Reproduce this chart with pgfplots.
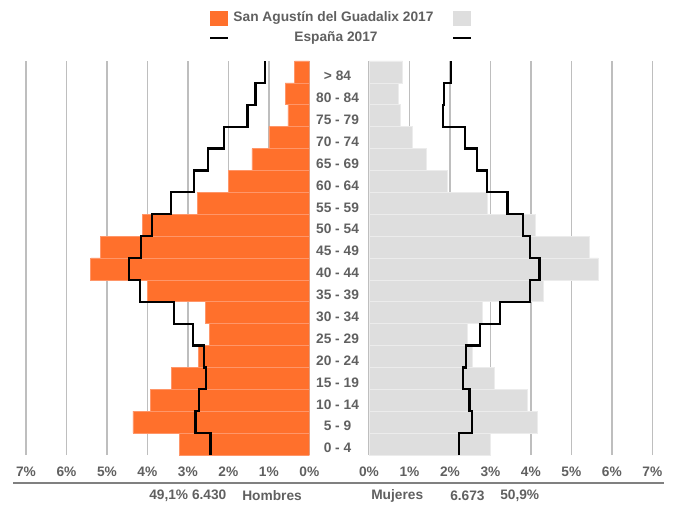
\documentclass[border=0pt]{standalone}
\usepackage{fontspec}
\setmainfont{Liberation Sans}
\usepackage{pgfplots}
\pgfplotsset{compat=1.18}
\usepackage{pgfplotstable}
\definecolor{sag}{RGB}{255,112,44}
\definecolor{sagedge}{RGB}{255,150,105}
\definecolor{esp}{RGB}{222,222,222}
\definecolor{espedge}{RGB}{236,236,236}
\definecolor{txt}{RGB}{96,96,96}
\definecolor{grd}{RGB}{190,190,190}
\newcommand{\lbl}{\fontsize{10.3}{12}\selectfont\bfseries}

\pgfplotstableread{
age men women
0 3.20 3.00
1 4.36 4.16
2 3.92 3.90
3 3.40 3.09
4 2.73 2.56
5 2.46 2.44
6 2.56 2.79
7 4.00 4.30
8 5.40 5.67
9 5.16 5.45
10 4.13 4.10
11 2.76 2.92
12 2.00 1.93
13 1.42 1.41
14 1.00 1.06
15 0.53 0.78
16 0.60 0.72
17 0.36 0.83
}\pyramid

\pgfplotsset{pyr/.style={
  scale only axis, width=212.5pt, height=295.5pt,
  xmin=0, xmax=7, ymin=-0.5, ymax=17.5,
  xtick={0,...,7}, xticklabels={0\%,1\%,2\%,3\%,4\%,5\%,6\%,7\%},
  xmajorgrids, major grid style={grd, line width=1.1pt},
  axis line style={draw=none}, major tick length=0pt,
  ytick=\empty,
  xticklabel style={font=\lbl, text=txt, yshift=-5.5pt},
  anchor=south west,
}}

\begin{document}
\begin{tikzpicture}
\path[use as bounding box] (0,0) rectangle (506.25pt,378pt);

% Hombres
\begin{axis}[pyr, at={(19.5pt,36.75pt)}, x dir=reverse]
\addplot[xbar, bar width=1, bar shift=0pt, fill=sag, draw=sagedge, line width=0.5pt]
  table[x=men, y=age] {\pyramid};
\addplot[black, line width=1.7pt, no marks] coordinates {
(2.44,-0.5)(2.44,0.5)(2.81,0.5)(2.81,1.5)(2.72,1.5)(2.72,2.5)(2.56,2.5)(2.56,3.5)
(2.61,3.5)(2.61,4.5)(2.87,4.5)(2.87,5.5)(3.34,5.5)(3.34,6.5)(4.19,6.5)(4.19,7.5)
(4.45,7.5)(4.45,8.5)(4.16,8.5)(4.16,9.5)(3.88,9.5)(3.88,10.5)(3.41,10.5)(3.41,11.5)
(2.85,11.5)(2.85,12.5)(2.50,12.5)(2.50,13.5)(2.11,13.5)(2.11,14.5)(1.53,14.5)(1.53,15.5)
(1.33,15.5)(1.33,16.5)(1.10,16.5)(1.10,17.5)};
\end{axis}

% Mujeres
\begin{axis}[pyr, at={(276.75pt,36.75pt)},
  ytick={0,...,17},
  yticklabels={0 - 4,5 - 9,10 - 14,15 - 19,20 - 24,25 - 29,30 - 34,35 - 39,40 - 44,45 - 49,50 - 54,55 - 59,60 - 64,65 - 69,70 - 74,75 - 79,80 - 84,> 84},
  yticklabel style={font=\lbl, text=txt, anchor=center, xshift=-23.6pt, yshift=-3pt}]
\addplot[xbar, bar width=1, bar shift=0pt, fill=esp, draw=espedge, line width=0.5pt]
  table[x=women, y=age] {\pyramid};
\addplot[black, line width=1.7pt, no marks] coordinates {
(2.23,-0.5)(2.23,0.5)(2.55,0.5)(2.55,1.5)(2.48,1.5)(2.48,2.5)(2.32,2.5)(2.32,3.5)
(2.40,3.5)(2.40,4.5)(2.74,4.5)(2.74,5.5)(3.23,5.5)(3.23,6.5)(3.98,6.5)(3.98,7.5)
(4.21,7.5)(4.21,8.5)(3.98,8.5)(3.98,9.5)(3.80,9.5)(3.80,10.5)(3.42,10.5)(3.42,11.5)
(2.91,11.5)(2.91,12.5)(2.66,12.5)(2.66,13.5)(2.38,13.5)(2.38,14.5)(1.83,14.5)(1.83,15.5)
(1.86,15.5)(1.86,16.5)(2.03,16.5)(2.03,17.5)};
\end{axis}

% legend
\fill[sag] (157.5pt,358.5pt) rectangle (171pt,369.75pt);
\fill[esp] (339.75pt,358.5pt) rectangle (353.25pt,369.75pt);
\draw[black, line width=2pt] (157.5pt,349.5pt) -- (171pt,349.5pt);
\draw[black, line width=2pt] (339.75pt,349.5pt) -- (353.25pt,349.5pt);
\node[font=\lbl, text=txt, anchor=center, inner sep=0pt] at (250.1pt,364.5pt) {San Agustín del Guadalix 2017};
\node[font=\lbl, text=txt, anchor=center, inner sep=0pt] at (252pt,349.5pt) {España 2017};

% bottom
\draw[color={rgb,255:red,128;green,128;blue,128}, line width=1.5pt] (9.75pt,15.75pt) -- (498pt,15.75pt);
\node[font=\lbl, text=txt, anchor=west, inner sep=0pt] at (111.75pt,6pt) {49,1\% 6.430};
\node[font=\lbl, text=txt, anchor=west, inner sep=0pt] at (181.5pt,6pt) {Hombres};
\node[font=\lbl, text=txt, anchor=west, inner sep=0pt] at (278.25pt,6pt) {Mujeres};
\node[font=\lbl, text=txt, anchor=west, inner sep=0pt] at (337.5pt,6pt) {6.673};
\node[font=\lbl, text=txt, anchor=west, inner sep=0pt] at (375pt,6pt) {50,9\%};
\end{tikzpicture}
\end{document}
